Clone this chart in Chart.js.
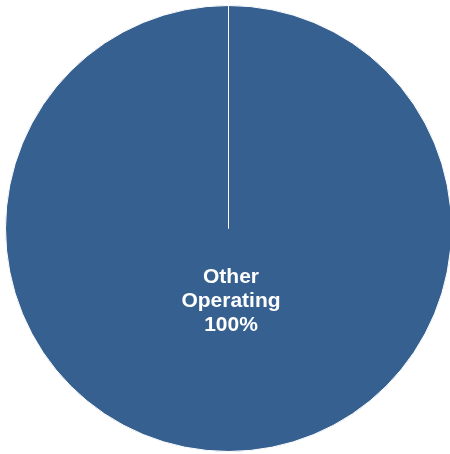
<!DOCTYPE html>
<html>
<head>
<meta charset="utf-8">
<script src="https://cdn.jsdelivr.net/npm/chart.js@4/dist/chart.umd.min.js"></script>
<style>
  html, body { margin: 0; padding: 0; background: #fff; }
  #wrap { width: 450px; height: 454px; }
</style>
</head>
<body>
<div id="wrap"><canvas id="pie"></canvas></div>
<script>
"use strict";

const categories = ["Other Operating"];
const shares = [100];
const sliceColors = ["#35608f"];

// Label inside the slice (name split over lines, then percent)
const sliceLabels = {
  id: "sliceLabels",
  afterDatasetsDraw(chart) {
    const ctx = chart.ctx;
    const arcs = chart.getDatasetMeta(0).data;
    ctx.save();
    ctx.fillStyle = "#ffffff";
    ctx.font = "bold 21px 'Liberation Sans', Arial, sans-serif";
    ctx.textAlign = "center";
    ctx.textBaseline = "middle";
    arcs.forEach((arc, i) => {
      const lines = categories[i].split(" ");
      lines.push(shares[i] + "%");
      const x = arc.x + 2.5;
      const yStart = arc.y + 48.5;
      lines.forEach((line, j) => {
        ctx.fillText(line, x, yStart + j * 24);
      });
    });
    ctx.restore();
  }
};

new Chart(document.getElementById("pie"), {
  type: "pie",
  data: {
    labels: categories,
    datasets: [{
      data: shares,
      backgroundColor: sliceColors,
      borderColor: "#ffffff",
      borderWidth: 1
    }]
  },
  options: {
    responsive: true,
    maintainAspectRatio: false,
    animation: false,
    radius: 223,
    layout: { padding: { left: 7, top: 3, right: 0, bottom: 0 } },
    plugins: {
      legend: { display: false },
      tooltip: { enabled: false }
    }
  },
  plugins: [sliceLabels]
});
</script>
</body>
</html>
